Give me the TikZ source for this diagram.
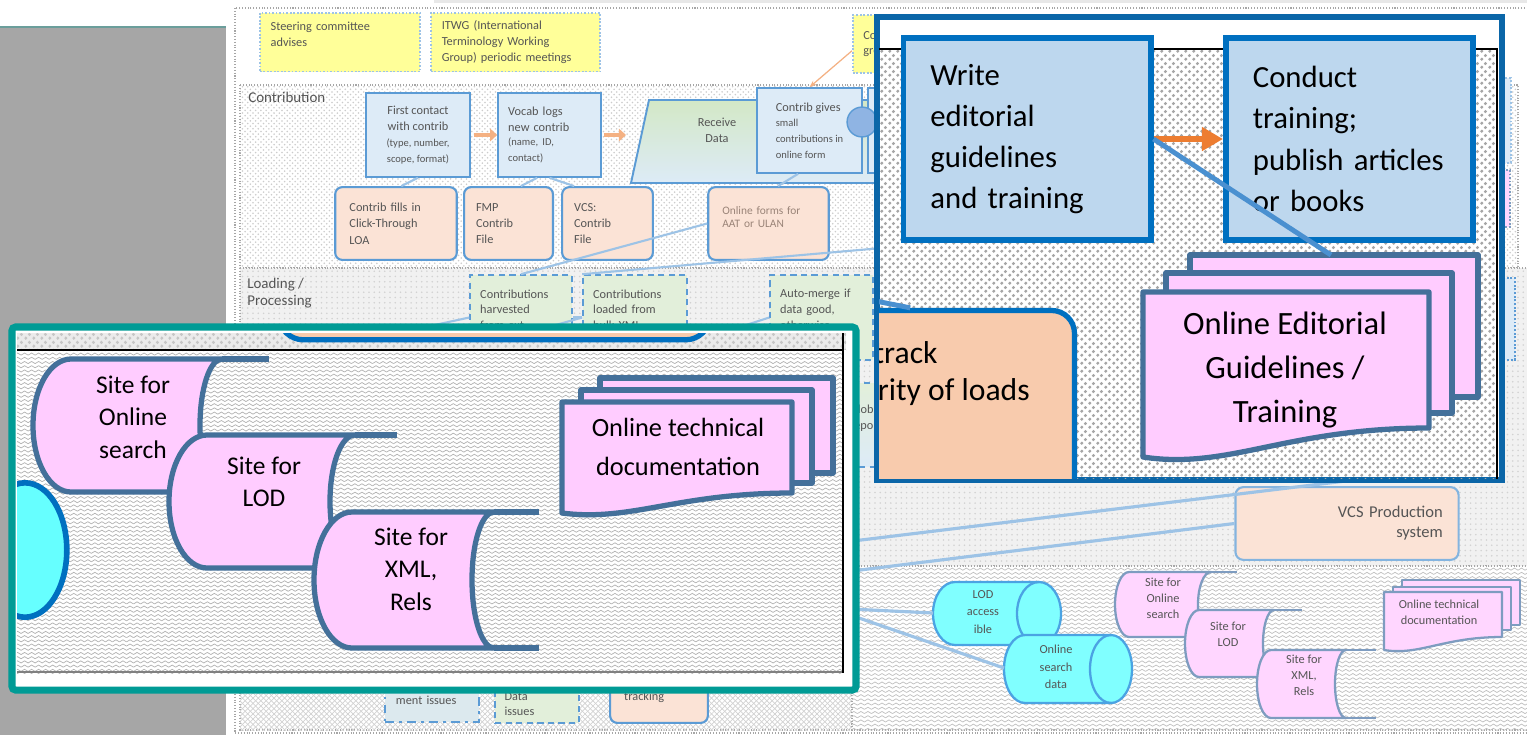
\documentclass[tikz,border=0pt]{standalone}
\usepackage{fontspec}
\setmainfont{Carlito}
\usepackage{tikz}
\usetikzlibrary{positioning,arrows.meta,patterns,shapes.geometric}

\definecolor{panelgray}{HTML}{A6A6A6}
\definecolor{panelline}{HTML}{6B9E9B}
\definecolor{govyellow}{HTML}{FFFF99}
\definecolor{procblue}{HTML}{DDEBF7}
\definecolor{boxblue}{HTML}{5B9BD5}
\definecolor{linkblue}{HTML}{9DC3E6}
\definecolor{gatefill}{HTML}{8FB4E3}
\definecolor{peach}{HTML}{FBE3D6}
\definecolor{deeppeach}{HTML}{F8CBAD}
\definecolor{loadgreen}{HTML}{E2EFDA}
\definecolor{recvgreen}{HTML}{D3E8C6}
\definecolor{mgmtblue}{HTML}{DCE9EE}
\definecolor{formtext}{HTML}{9A8478}
\definecolor{sitepink}{HTML}{FFCCFF}
\definecolor{siteedge}{HTML}{44709A}
\definecolor{pinklite}{HTML}{FFD6FF}
\definecolor{edgelite}{HTML}{7E9CC0}
\definecolor{drumcyan}{HTML}{66FFFF}
\definecolor{cyanlite}{HTML}{80FFFF}
\definecolor{drumedge}{HTML}{4BA3E3}
\definecolor{insetblue}{HTML}{0B66A8}
\definecolor{strongblue}{HTML}{0070C0}
\definecolor{guideline}{HTML}{4A90D0}
\definecolor{paleblue}{HTML}{BDD7EE}
\definecolor{insetteal}{HTML}{009B95}
\definecolor{flowor}{HTML}{ED7D31}
\definecolor{softor}{HTML}{F4B183}
\definecolor{textgray}{HTML}{555555}

\newcommand{\lanefont}{\fontsize{7}{9}\selectfont}
\newcommand{\notefont}{\fontsize{6}{7.8}\selectfont}
\newcommand{\headfont}{\fontsize{8.5}{9.6}\selectfont}
\newcommand{\vcsfont}{\fontsize{9.4}{11.3}\selectfont}
\newcommand{\drumfont}{\fontsize{7}{10}\selectfont}
\newcommand{\bigfont}{\fontsize{17.5}{23.5}\selectfont}
\newcommand{\docfont}{\fontsize{18.5}{25}\selectfont}
\newcommand{\sitefont}{\fontsize{14.5}{18.4}\selectfont}
\newcommand{\techfont}{\fontsize{15}{22}\selectfont}

% textures of the swim lanes
\pgfdeclarepatternformonly{zigzag}{\pgfqpoint{-0.3pt}{-0.3pt}}{\pgfqpoint{4.3pt}{2.7pt}}{\pgfqpoint{4pt}{2.4pt}}{%
  \pgfsetlinewidth{0.4pt}%
  \pgfpathmoveto{\pgfqpoint{0pt}{0.2pt}}%
  \pgfpathlineto{\pgfqpoint{2pt}{1.4pt}}%
  \pgfpathlineto{\pgfqpoint{4pt}{0.2pt}}%
  \pgfusepath{stroke}}
\pgfdeclarepatternformonly{bigdots}{\pgfqpoint{0pt}{0pt}}{\pgfqpoint{4.6pt}{4.6pt}}{\pgfqpoint{4.6pt}{4.6pt}}{%
  \pgfpathcircle{\pgfqpoint{1.15pt}{1.15pt}}{1.05pt}%
  \pgfpathcircle{\pgfqpoint{3.45pt}{3.45pt}}{1.05pt}%
  \pgfusepath{fill}}

% stored data: left x, top, bottom, right arc x, line end x, left bulge, right bulge, style
\newcommand{\storedata}[8]{%
  \path[#8] ({#1+#6},#2) -- (#4,#2)
    .. controls ({#4-0.55*#7},#2) and ({#4-#7},{(#2+#3)/2-0.28*(#3-#2)}) .. ({#4-#7},{(#2+#3)/2})
    .. controls ({#4-#7},{(#2+#3)/2+0.28*(#3-#2)}) and ({#4-0.55*#7},#3) .. (#4,#3)
    -- ({#1+#6},#3)
    .. controls ({#1+0.45*#6},#3) and (#1,{(#2+#3)/2+0.28*(#3-#2)}) .. (#1,{(#2+#3)/2})
    .. controls (#1,{(#2+#3)/2-0.28*(#3-#2)}) and ({#1+0.45*#6},#2) .. cycle;
  \draw[#8, fill=none] (#4,#2) -- (#5,#2) (#4,#3) -- (#5,#3);}

% lying drum: left x, top, bottom, right end centre x, end radius, style
\newcommand{\drum}[6]{%
  \path[#6] ({#1+#5},#2) -- (#4,#2)
    .. controls ({#4+0.55*#5},#2) and ({#4+#5},{(#2+#3)/2-0.28*(#3-#2)}) .. ({#4+#5},{(#2+#3)/2})
    .. controls ({#4+#5},{(#2+#3)/2+0.28*(#3-#2)}) and ({#4+0.55*#5},#3) .. (#4,#3)
    -- ({#1+#5},#3)
    .. controls ({#1+0.45*#5},#3) and (#1,{(#2+#3)/2+0.28*(#3-#2)}) .. (#1,{(#2+#3)/2})
    .. controls (#1,{(#2+#3)/2-0.28*(#3-#2)}) and ({#1+0.45*#5},#2) .. cycle;
  \draw[#6, fill=none] (#4,#2)
    .. controls ({#4-0.55*#5},#2) and ({#4-#5},{(#2+#3)/2-0.28*(#3-#2)}) .. ({#4-#5},{(#2+#3)/2})
    .. controls ({#4-#5},{(#2+#3)/2+0.28*(#3-#2)}) and ({#4-0.55*#5},#3) .. (#4,#3);}

% document sheet with wavy foot: x0, top, x1, left foot y, wave, style
\newcommand{\docsheet}[6]{%
  \path[#6] (#1,#2) -- (#3,#2) -- (#3,{#4-#5})
    .. controls ({#1+0.5*(#3-#1)},{#4-#5}) and ({#1+0.3*(#3-#1)},{#4+0.45*#5}) .. (#1,#4) -- cycle;}

\begin{document}
\begin{tikzpicture}[
    x=0.02cm, y=-0.02cm,
    lane/.style={draw=gray!70, densely dotted, line width=0.6pt},
    lanelabel/.style={anchor=north west, inner sep=0pt, font=\headfont, text=textgray, align=left},
    govbox/.style={anchor=north west, fill=govyellow, draw=linkblue, densely dotted, line width=1pt,
        font=\lanefont, text=textgray, align=left, inner xsep=6pt},
    procbox/.style={fill=procblue, draw=boxblue, line width=1.1pt, font=\lanefont, text=textgray},
    srcbox/.style={fill=peach, draw=boxblue, line width=1.2pt, rounded corners=4pt,
        font=\lanefont, text=textgray, align=left},
    loadbox/.style={fill=loadgreen, draw=boxblue, line width=1.1pt, dash pattern=on 3.5pt off 2.5pt,
        font=\lanefont, text=textgray, align=left},
    link/.style={draw=linkblue, line width=1.2pt},
    feed/.style={draw=linkblue, line width=1.8pt},
    handoff/.style={draw=softor, line width=2.6pt, -{Triangle[length=4pt, width=7pt]}},
    notice/.style={draw=softor, line width=0.7pt, -{Stealth[length=4pt]}},
    sitesmall/.style={fill=pinklite, draw=edgelite, line width=1.3pt, line join=round},
    drumsmall/.style={fill=cyanlite, draw=drumedge, line width=1.3pt, line join=round},
    sitebig/.style={fill=sitepink, draw=siteedge, line width=3pt, line join=round},
    smalllabel/.style={font=\lanefont, text=textgray, align=center, inner sep=0pt},
    biglabel/.style={font=\sitefont, align=center, inner sep=0pt},
    guidebox/.style={fill=paleblue, draw=strongblue, line width=3.4pt, minimum width=140.6pt,
        minimum height=114.5pt, font=\bigfont, align=left, text width=110pt, inner xsep=15.3pt},
    flowarrow/.style={draw=flowor, line width=3.6pt, -{Triangle[length=12pt, width=13pt]}},
    guidelink/.style={draw=guideline, line width=2.8pt}
]
\useasboundingbox (0,0) rectangle (1527,735);
\fill[white] (0,0) rectangle (1527,735);
\fill[panelgray] (0,27) rectangle (226,735);
\draw[panelline, line width=0.8pt] (0,27) -- (226,27);
\fill[gray!18] (434,0) rectangle (1527,3);

% lanes
\draw[lane] (235,8) rectangle (1545,733);
\path[lane, fill=white] (240,85) rectangle (1518,268);
\fill[pattern=crosshatch dots, pattern color=gray!40] (240,85) rectangle (1518,268);
\path[lane, fill=gray!11] (240,268) rectangle (1545,566);
\fill[pattern=dots, pattern color=gray!35] (240,268) rectangle (1545,566);
\path[lane, fill=white] (240,566) rectangle (852,730);
\fill[pattern=north east lines, pattern color=gray!35] (240,566) rectangle (852,730);
\fill[pattern=north west lines, pattern color=gray!35] (240,566) rectangle (852,730);
\path[lane, fill=white] (852,566) rectangle (1545,730);
\fill[pattern=zigzag, pattern color=gray!50] (852,566) rectangle (1545,730);
\node[lanelabel] (contriblane) at (248,92) {Contribution};
\node[lanelabel] (loadlane) at (247,278) {Loading /\\Processing};

% governance
\node[govbox, minimum width=91.3pt, minimum height=33.4pt, text width=79pt] (steering) at (259,12) {Steering committee\\advises\\~};
\node[govbox, minimum width=96.4pt, minimum height=33.4pt, text width=84pt] (itwg) at (430,12) {ITWG (International\\Terminology Working\\Group) periodic meetings};
\node[govbox, minimum width=84pt, minimum height=32.9pt, text width=72pt] (cgroup) at (852,14) {Contributor\\groups};

% contribution lane
\shade[top color=recvgreen, bottom color=procblue, draw=boxblue, line width=1.1pt] (649,100) -- (1000,100) -- (1000,183) -- (631,183) -- cycle;
\node[font=\lanefont, text=textgray, align=center] (receive) at (717,130) {Receive\\Data};
\node[procbox, minimum width=59pt, minimum height=47.6pt, align=center] (first) at (418,135) {First contact\\with contrib\\\notefont(type, number,\\\notefont scope, format)};
\node[procbox, minimum width=58.4pt, minimum height=47.6pt, text width=47pt, inner xsep=5.7pt, align=left] (vocab) at (549.5,135) {Vocab logs\\new contrib\\\notefont(name, ID,\\contact)};
\node[procbox, minimum width=59.5pt, minimum height=48.2pt, align=left] (gives) at (809.5,130.5) {Contrib gives\\\notefont small\\\notefont contributions in\\\notefont online form};
\node[procbox, minimum width=52pt, minimum height=48.2pt] (nextstep) at (914,130.5) {};
\node[circle, fill=gatefill, draw=boxblue, line width=0.8pt, minimum size=17pt, inner sep=0pt] (gate) at (862,122) {};
\coordinate (recvin) at (626,135);
\draw[handoff, shorten <=1.7pt] (first.east) -- (vocab.west);
\draw[handoff, shorten <=1pt] (vocab.east) -- (recvin);
\draw[notice] ([yshift=13pt]cgroup.south west) -- (gives.north);

\node[srcbox, minimum width=69.2pt, minimum height=41.4pt, text width=53pt, inner xsep=8pt, font=\fontsize{7}{9.3}\selectfont] (loa) at (396,223.5) {Contrib fills in\\Click-Through\\LOA};
\node[srcbox, minimum width=50.5pt, minimum height=41.4pt, text width=37pt, inner xsep=6.8pt, font=\fontsize{7}{9.3}\selectfont] (fmp) at (508.5,223.5) {FMP\\Contrib\\File};
\node[srcbox, minimum width=51.6pt, minimum height=41.4pt, text width=38pt, inner xsep=6.8pt, font=\fontsize{7}{9.3}\selectfont] (vcsfile) at (607.5,223.5) {VCS:\\Contrib\\File};
\node[srcbox, minimum width=68.6pt, minimum height=41.4pt, text width=52.6pt, inner xsep=8pt, font=\fontsize{6.5}{7.5}\selectfont, text=formtext] (onlineforms) at (768.5,223.5) {Online forms for\\AAT or ULAN\\~};

\draw[link] ([xshift=3pt]loa.north) -- (first.south);
\draw[link] ([xshift=7pt]fmp.north) -- ([xshift=-7pt]vocab.south);
\draw[link] ([xshift=-19pt]vcsfile.north) -- (vocab.south);
\draw[link] ([xshift=5.4pt]onlineforms.north) -- ([xshift=-6.5pt]gives.south);

% right edge slivers
\node[procbox, draw=linkblue, densely dotted, minimum width=23.2pt, minimum height=48.2pt] (edgestep) at (1490.5,120.5) {};
\node[fill=pinklite, draw=edgelite, densely dotted, line width=1pt, minimum width=22.7pt, minimum height=32.3pt] (edgesite) at (1490,198.5) {};
\node[procbox, draw=boxblue, densely dotted, minimum width=25.5pt, minimum height=46.5pt] (edgeload) at (1492.5,319) {};

% loading lane
\node[loadbox, minimum width=57.8pt, minimum height=48.2pt, text width=46.4pt, inner xsep=5.7pt] (harvested) at (521,317.5) {Contributions\\harvested\\from ext.\\sources};
\node[loadbox, minimum width=59pt, minimum height=48.2pt, text width=47.6pt, inner xsep=5.7pt] (loaded) at (635,317.5) {Contributions\\loaded from\\bulk XML\\files};
\node[loadbox, minimum width=58.4pt, minimum height=48.2pt, text width=47pt, inner xsep=5.7pt] (automerge) at (821.5,317.5) {Auto-merge if\\data good,\\otherwise\\review};
\node[loadbox, top color=loadgreen, bottom color=procblue, minimum width=69.2pt, minimum height=47.6pt, text width=55.6pt, inner xsep=6.8pt] (reports) at (899,425) {Global\\reports\\if};
\coordinate (feedA) at (430,326);
\coordinate (feedB) at (545,328);
\coordinate (feedC) at (740,327);
\coordinate (contribhid) at (905,246);
\draw[link] (feedA) -- (harvested.west);
\draw[link] (feedB) -- (loaded.west);
\draw[link] (feedC) -- (automerge.west);
\draw[link] (harvested.east) -- (loaded.west);
\draw[link] (harvested.north) -- (onlineforms.west);
\draw[link] (loaded.north west) -- (contribhid);

\node[srcbox, draw=boxblue!75, rounded corners=4.5pt, align=right, font=\vcsfont, minimum width=127pt, minimum height=41.4pt, text width=109pt, inner xsep=9pt] (vcsprod) at (1347,523.5) {VCS Production\\system};
\coordinate (vcsfeed) at (820,545);
\coordinate (vcsfeedlow) at (820,575);
\coordinate (upperhid) at (1370,478);
\draw[feed] (vcsfeed) -- (upperhid);
\draw[feed] (vcsfeedlow) -- (vcsprod.west);

% lower lanes, left part
\node[loadbox, fill=mgmtblue, dash pattern=on 5pt off 3pt on 1.5pt off 3pt, minimum width=53.3pt, minimum height=32.9pt, text width=41pt, inner xsep=6pt] (mgmt) at (432,693) {Manage-\\ment issues};
\node[loadbox, minimum width=47.6pt, minimum height=21.5pt, text width=37pt, inner xsep=5pt] (issues) at (537,704) {Data\\issues};
\node[srcbox, minimum width=55.6pt, minimum height=37.4pt, text width=39.6pt, inner xsep=8pt] (errtrack) at (659,690) {Error\\tracking};

% publishing lane
\drum{933}{582}{645}{1039}{22}{drumsmall}
\node[smalllabel, font=\drumfont] (lodaccess) at (983,612) {LOD\\access\\ible};
\drum{1004}{635}{703}{1111}{21}{drumsmall}
\node[smalllabel, font=\drumfont] (searchdata) at (1056,667) {Online\\search\\data};
\storedata{1115}{572}{637}{1211}{1237}{14}{13}{sitesmall}
\node[smalllabel] (siteonline) at (1163,598) {Site for\\Online\\search};
\storedata{1185}{610}{677}{1274}{1302}{14}{11}{sitesmall}
\node[smalllabel] (sitelod) at (1228,634) {Site for\\LOD};
\storedata{1257}{650}{718}{1346}{1376}{14}{11}{sitesmall}
\node[smalllabel] (sitexml) at (1304,675) {Site for\\XML,\\Rels};
\draw[sitesmall] (1402,580) rectangle (1520,625);
\draw[sitesmall] (1393,587) rectangle (1511,630);
\docsheet{1384}{592}{1502}{650}{13}{sitesmall}
\node[smalllabel] (techsmall) at (1439,612) {Online technical\\documentation};
\coordinate (pubfeed) at (830,608);
\coordinate (lodaccess-w) at (933,613);
\coordinate (searchdata-w) at (1004,668);
\draw[feed] (pubfeed) -- (lodaccess-w);
\draw[feed] (pubfeed) -- (searchdata-w);

% close-up of publishing lane
\draw[insetteal, line width=4pt, fill=white, rounded corners=2pt] (12,327) rectangle (856,690);
\begin{scope}
  \clip (17,333) rectangle (846,673);
  \fill[gray!16] (17,333) rectangle (846,350);
  \fill[pattern=bigdots, pattern color=gray!45] (17,333) rectangle (846,350);
  \node[draw=strongblue, fill=deeppeach, line width=3pt, rounded corners=14pt, minimum width=245.5pt, minimum height=56.7pt] (bigload) at (494.5,290) {};
  \fill[white] (17,350) rectangle (846,673);
  \fill[pattern=zigzag, pattern color=gray!60] (17,350) rectangle (843,673);
  \draw[gray, line width=0.8pt] (17,672) -- (843,672);
  \draw[black, line width=1pt] (17,350) -- (843,350) (843,333) -- (843,673);
  \node[ellipse, draw=strongblue, fill=drumcyan, line width=3.2pt, minimum width=47.6pt, minimum height=76.5pt] (lodend) at (25,550) {};
  \storedata{33}{359}{492}{222}{269}{38}{22}{sitebig}
  \node[biglabel] (siteonlinebig) at (133,417) {Site for\\Online\\search};
  \storedata{169}{435}{568}{355}{397}{38}{25}{sitebig}
  \node[biglabel] (sitelodbig) at (264,482) {Site for\\LOD};
  \storedata{314}{512}{648}{494}{539}{38}{22}{sitebig}
  \node[biglabel] (sitexmlbig) at (411,569) {Site for\\XML,\\Rels};
  \draw[sitebig] (600,378) rectangle (833,473);
  \draw[sitebig] (581,390) rectangle (812,483);
  \docsheet{562}{402}{792}{513}{20}{sitebig}
  \node[font=\techfont, align=center, inner sep=0pt] (techbig) at (678,447) {Online technical\\documentation};
\end{scope}

% close-up of editorial work
\draw[insetblue, line width=3pt, fill=white] (877,17) rectangle (1502,480);
\begin{scope}
  \clip (879,19) rectangle (1500,478);
  \fill[pattern=bigdots, pattern color=gray!70] (860,49) rectangle (1497,500);
  \draw[black, line width=1.2pt] (860,49) -- (1497,49) -- (1497,500);
  \node[draw=strongblue, fill=deeppeach, line width=3pt, rounded corners=13pt, minimum width=177pt, minimum height=119pt] (loadcheck) at (919,415) {};
  \node[font=\fontsize{18}{21}\selectfont, align=left, anchor=north west, inner sep=0pt] (loadchecktext) at (813,341) {Log, track\\integrity of loads};
  \coordinate (leftfeed) at (850,296);
  \draw[guidelink] (leftfeed) -- ([xshift=-5pt]loadcheck.north);
  \node[guidebox] (write) at (1027,139) {Write\\editorial\\guidelines\\and training};
  \node[guidebox] (conduct) at (1349.5,139) {Conduct\\training;\\publish articles\\or books};
  \draw[sitebig] (1190,255) rectangle (1478,397);
  \draw[sitebig] (1166,273) rectangle (1452,413);
  \docsheet{1143}{292}{1429}{457}{29}{sitebig}
  \node[font=\docfont, align=center, inner sep=0pt] (editdoc) at (1285,370) {Online Editorial\\Guidelines /\\Training};
  \coordinate (editdoc-top) at (1331,255);
  \draw[flowarrow] (write.east) -- (conduct.west);
  \draw[guidelink] (write.east) -- (editdoc-top);
\end{scope}
\end{tikzpicture}
\end{document}
